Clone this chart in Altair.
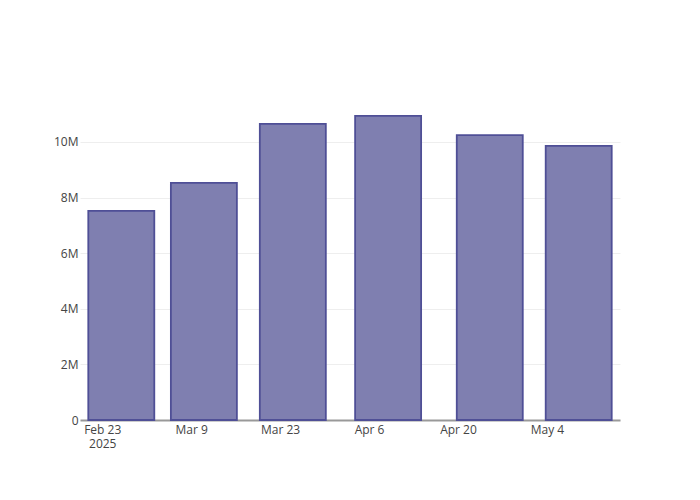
import altair as alt
import pandas as pd

dates = ["2025-02-26", "2025-03-11", "2025-03-25", "2025-04-09", "2025-04-25", "2025-05-09"]
values = [7.52e6, 8.53e6, 10.65e6, 10.94e6, 10.25e6, 9.86e6]
tick_dates = ["2025-02-23", "2025-03-09", "2025-03-23", "2025-04-06", "2025-04-20", "2025-05-04"]

df = pd.DataFrame({"date": pd.to_datetime(dates), "value": values})

tick_vals = [alt.DateTime(year=int(d[:4]), month=int(d[5:7]), date=int(d[8:10])) for d in tick_dates]
dom = [alt.DateTime(year=2025, month=2, date=19, hours=12), alt.DateTime(year=2025, month=5, date=15, hours=12)]

font = "Open Sans"

chart = alt.Chart(df).mark_bar(
    size=66, color="#7f7fb0", stroke="#4f4f96", strokeWidth=1.8
).encode(
    x=alt.X("date:T", title=None,
            scale=alt.Scale(domain=dom, nice=False, padding=0),
            axis=alt.Axis(values=tick_vals,
                          labelExpr="month(datum.value)==1 && date(datum.value)==23 ? ['Feb 23','2025'] : timeFormat(datum.value, '%b %-d')",
                          ticks=False, grid=False, domain=True, domainColor="#999999", domainWidth=2,
                          labelFont=font, labelFontSize=12, labelColor="#444444", labelPadding=4,
                          labelAlign="center", labelBaseline="top", labelFlush=False, labelOverlap=False)),
    y=alt.Y("value:Q", title=None,
            scale=alt.Scale(domain=[0, 11.51e6], nice=False, zero=True, padding=0),
            axis=alt.Axis(values=[0, 2e6, 4e6, 6e6, 8e6, 10e6],
                          labelExpr="datum.value == 0 ? '0' : format(datum.value, '~s')",
                          ticks=False, domain=False, grid=True, gridColor="#eeeeee", gridWidth=1,
                          labelFont=font, labelFontSize=12, labelColor="#444444", labelPadding=2)),
).properties(
    width=540, height=320,
    autosize=alt.AutoSizeParams(type="none"),
    padding={"left": 72, "top": 92, "right": 60, "bottom": 60},
).configure_view(stroke=None)

chart.save("out.html", embed_options={"renderer": "svg", "actions": False})
